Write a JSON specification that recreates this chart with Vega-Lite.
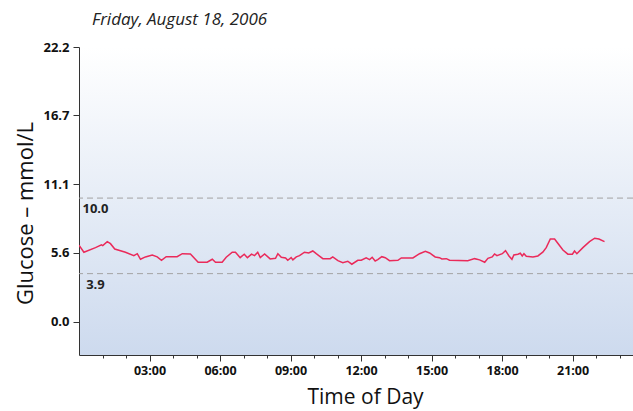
{
  "$schema": "https://vega.github.io/schema/vega-lite/v6.json",
  "width": 554,
  "height": 308,
  "autosize": {"type": "none"},
  "padding": {"left": 79, "top": 47, "right": 0, "bottom": 56},
  "background": "white",
  "title": {
    "text": "Friday, August 18, 2006",
    "anchor": "start",
    "frame": "group",
    "font": "Open Sans",
    "fontSize": 17,
    "fontStyle": "italic",
    "fontWeight": "normal",
    "color": "#222222",
    "dx": 13,
    "offset": 12
  },
  "config": {
    "view": {
      "stroke": null,
      "fill": {
        "gradient": "linear",
        "x1": 0, "y1": 0, "x2": 0, "y2": 1,
        "stops": [
          {"offset": 0, "color": "#ffffff"},
          {"offset": 1, "color": "#cddaee"}
        ]
      }
    }
  },
  "resolve": {"axis": {"x": "independent"}},
  "datasets": {
    "glucose": [
      {"h": 0.0, "g": 6.2}, {"h": 0.208, "g": 5.63}, {"h": 0.701, "g": 6.0}, {"h": 0.956, "g": 6.22},
      {"h": 1.011, "g": 6.16}, {"h": 1.202, "g": 6.48}, {"h": 1.339, "g": 6.32}, {"h": 1.522, "g": 5.89},
      {"h": 1.977, "g": 5.63}, {"h": 2.333, "g": 5.35}, {"h": 2.479, "g": 5.51}, {"h": 2.616, "g": 5.06},
      {"h": 2.826, "g": 5.25}, {"h": 3.117, "g": 5.41}, {"h": 3.327, "g": 5.25}, {"h": 3.509, "g": 4.98},
      {"h": 3.71, "g": 5.27}, {"h": 4.175, "g": 5.27}, {"h": 4.394, "g": 5.51}, {"h": 4.74, "g": 5.49},
      {"h": 5.069, "g": 4.82}, {"h": 5.452, "g": 4.82}, {"h": 5.671, "g": 5.06}, {"h": 5.807, "g": 4.82},
      {"h": 6.09, "g": 4.82}, {"h": 6.263, "g": 5.22}, {"h": 6.519, "g": 5.63}, {"h": 6.656, "g": 5.63},
      {"h": 6.856, "g": 5.19}, {"h": 7.029, "g": 5.47}, {"h": 7.166, "g": 5.19}, {"h": 7.34, "g": 5.47},
      {"h": 7.467, "g": 5.35}, {"h": 7.604, "g": 5.63}, {"h": 7.713, "g": 5.19}, {"h": 7.896, "g": 5.49},
      {"h": 8.133, "g": 5.09}, {"h": 8.361, "g": 5.14}, {"h": 8.461, "g": 5.51}, {"h": 8.607, "g": 5.22},
      {"h": 8.789, "g": 5.17}, {"h": 8.881, "g": 4.98}, {"h": 9.026, "g": 5.19}, {"h": 9.099, "g": 5.01},
      {"h": 9.245, "g": 5.25}, {"h": 9.382, "g": 5.35}, {"h": 9.592, "g": 5.63}, {"h": 9.774, "g": 5.57},
      {"h": 9.947, "g": 5.73}, {"h": 10.093, "g": 5.51}, {"h": 10.376, "g": 5.11}, {"h": 10.686, "g": 5.11},
      {"h": 10.796, "g": 5.25}, {"h": 11.015, "g": 4.95}, {"h": 11.224, "g": 4.79}, {"h": 11.434, "g": 4.9},
      {"h": 11.607, "g": 4.66}, {"h": 11.863, "g": 4.98}, {"h": 12.009, "g": 4.98}, {"h": 12.218, "g": 5.17},
      {"h": 12.364, "g": 5.03}, {"h": 12.473, "g": 5.22}, {"h": 12.601, "g": 4.92}, {"h": 12.711, "g": 5.03},
      {"h": 12.884, "g": 5.27}, {"h": 13.03, "g": 5.19}, {"h": 13.212, "g": 4.95}, {"h": 13.568, "g": 4.98},
      {"h": 13.713, "g": 5.17}, {"h": 14.206, "g": 5.17}, {"h": 14.489, "g": 5.51}, {"h": 14.735, "g": 5.71},
      {"h": 14.917, "g": 5.57}, {"h": 15.154, "g": 5.25}, {"h": 15.337, "g": 5.19}, {"h": 15.437, "g": 5.09},
      {"h": 15.629, "g": 5.11}, {"h": 15.765, "g": 4.98}, {"h": 16.54, "g": 4.95}, {"h": 16.832, "g": 5.11},
      {"h": 17.042, "g": 5.01}, {"h": 17.261, "g": 4.82}, {"h": 17.397, "g": 5.14}, {"h": 17.58, "g": 5.25},
      {"h": 17.68, "g": 5.49}, {"h": 17.781, "g": 5.35}, {"h": 18.009, "g": 5.51}, {"h": 18.146, "g": 5.76},
      {"h": 18.292, "g": 5.33}, {"h": 18.419, "g": 5.06}, {"h": 18.501, "g": 5.41}, {"h": 18.675, "g": 5.47},
      {"h": 18.775, "g": 5.55}, {"h": 18.857, "g": 5.33}, {"h": 18.93, "g": 5.51}, {"h": 19.03, "g": 5.3},
      {"h": 19.313, "g": 5.25}, {"h": 19.523, "g": 5.33}, {"h": 19.732, "g": 5.63}, {"h": 19.878, "g": 6.0},
      {"h": 20.052, "g": 6.7}, {"h": 20.234, "g": 6.7}, {"h": 20.371, "g": 6.35}, {"h": 20.589, "g": 5.81},
      {"h": 20.799, "g": 5.47}, {"h": 20.991, "g": 5.47}, {"h": 21.082, "g": 5.73}, {"h": 21.182, "g": 5.51},
      {"h": 21.438, "g": 6.0}, {"h": 21.72, "g": 6.48}, {"h": 21.939, "g": 6.76}, {"h": 22.121, "g": 6.7},
      {"h": 22.358, "g": 6.48}
    ],
    "ranges": [
      {"v": 10.0, "label": "10.0", "h": 0.7},
      {"v": 3.9, "label": "3.9", "h": 0.7}
    ]
  },
  "layer": [
    {
      "data": {"name": "ranges"},
      "mark": {"type": "rule", "stroke": "#a3a3a3", "strokeWidth": 1, "strokeDash": [6, 4]},
      "encoding": {
        "y": {"field": "v", "type": "quantitative", "scale": {"domain": [-2.67, 22.2], "nice": false, "zero": false}}
      }
    },
    {
      "data": {"name": "ranges"},
      "mark": {"type": "text", "align": "center", "baseline": "top", "dy": 5, "font": "Open Sans", "fontSize": 13, "fontWeight": "bold", "color": "#222222"},
      "encoding": {
        "x": {
          "field": "h",
          "type": "quantitative",
          "axis": {
            "orient": "bottom",
            "values": [1, 2, 3, 4, 5, 6, 7, 8, 9, 10, 11, 12, 13, 14, 15, 16, 17, 18, 19, 20, 21, 22, 23],
            "labels": false,
            "domain": false,
            "grid": false,
            "tickSize": 3,
            "tickColor": "#333333",
            "title": null
          }
        },
        "y": {"field": "v", "type": "quantitative"},
        "text": {"field": "label"}
      }
    },
    {
      "data": {"name": "glucose"},
      "mark": {"type": "line", "color": "#ea2a5a", "strokeWidth": 1.5, "clip": true},
      "encoding": {
        "x": {
          "field": "h",
          "type": "quantitative",
          "scale": {"domain": [0, 23.57], "nice": false, "zero": false},
          "axis": {
            "orient": "bottom",
            "title": "Time of Day",
            "titleX": 286,
            "values": [3, 6, 9, 12, 15, 18, 21],
            "labelExpr": "(datum.value < 10 ? '0' : '') + datum.value + ':00'",
            "tickSize": 6,
            "grid": false,
            "domainColor": "#333333",
            "tickColor": "#333333",
            "labelFont": "Open Sans",
            "labelFontSize": 12.5,
            "labelFontWeight": "bold",
            "labelColor": "#111111",
            "labelPadding": 3,
            "labelFlush": false,
            "labelOverlap": false,
            "titleFont": "Open Sans",
            "titleFontSize": 21,
            "titleFontWeight": "normal",
            "titleColor": "#111111",
            "titlePadding": 10
          }
        },
        "y": {
          "field": "g",
          "type": "quantitative",
          "axis": {
            "title": "Glucose – mmol/L",
            "titleY": 166,
            "values": [0, 5.6, 11.1, 16.7, 22.2],
            "format": ".1f",
            "grid": false,
            "tickSize": 6,
            "domainColor": "#333333",
            "tickColor": "#333333",
            "labelFont": "Open Sans",
            "labelFontSize": 13,
            "labelFontWeight": "bold",
            "labelColor": "#111111",
            "labelPadding": 4,
            "labelFlush": false,
            "titleFont": "Open Sans",
            "titleFontSize": 22,
            "titleFontWeight": "normal",
            "titleColor": "#111111",
            "titlePadding": 5
          }
        }
      }
    }
  ]
}
